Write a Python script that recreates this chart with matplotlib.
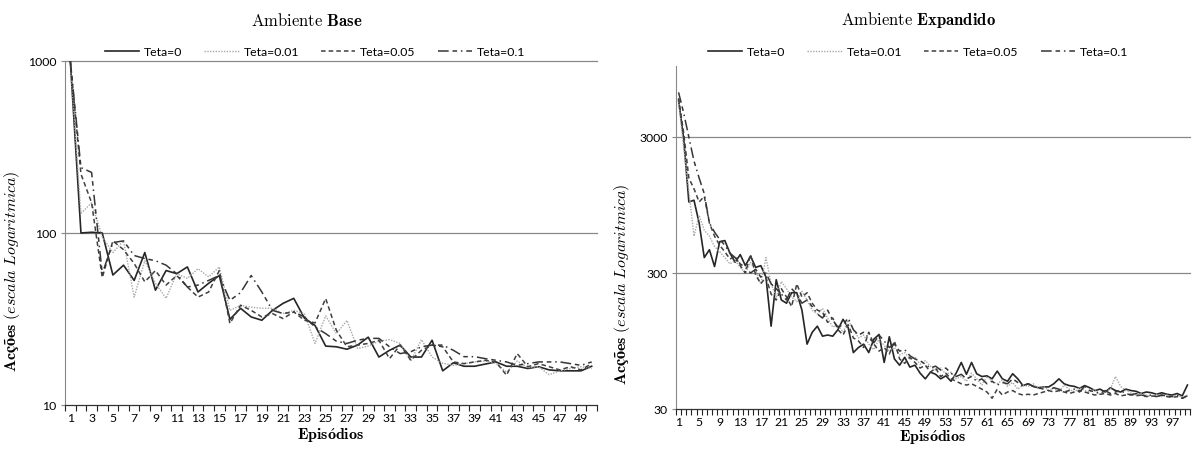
import matplotlib
matplotlib.use("Agg")
import matplotlib.pyplot as plt
import numpy as np

plt.rcParams['mathtext.fontset'] = 'cm'
plt.rcParams['font.family'] = ['Lato', 'DejaVu Sans']

labels = ["Teta=0", "Teta=0.01", "Teta=0.05", "Teta=0.1"]

# ---- Ambiente Base (50 episodes) ----
base_t0 = [1000, 100, 101, 100, 57, 65, 53, 77, 46.5, 60.5, 58, 63.5, 45.4, 51, 56.6,
           31.5, 36.5, 32.5, 31.1, 35.5, 39, 41.7, 32, 29, 22, 21.8, 21.1, 22.3, 24.8, 19.0,
           20.8, 22.3, 19.0, 19.0, 23.8, 15.8, 17.6, 16.8, 16.8, 17.3, 17.8, 16.8, 16.8, 16.3,
           16.7, 16.0, 15.8, 15.8, 15.8, 16.8]
base_t01 = [1000, 130, 150, 95, 77, 90, 42.4, 69, 51, 41.7, 58, 54.5, 62, 55.5, 63.5,
            35.5, 38, 37, 36.5, 36.5, 34, 35.5, 34, 22.8, 33, 26, 31, 21.3, 22, 23.5,
            24, 22.8, 18, 24, 19, 17.5, 17, 17.4, 17.8, 18, 17.5, 15.5, 18, 16.5,
            16.7, 15, 15.8, 16.3, 16.7, 16.3]
base_t05 = [1000, 220, 150, 55, 90, 80, 66.5, 52, 60.5, 49.8, 56.6, 48.5, 42.4, 45.4, 60.5,
            29.8, 38, 35.5, 32.5, 34, 31.8, 34.8, 31.1, 30, 41.6, 27.2, 21.8, 22.3, 22.8, 23.8,
            18.6, 22.3, 18.2, 20.8, 22.3, 21.8, 17.8, 17.4, 17.8, 18.2, 17.8, 14.9, 19.9, 16.7,
            17.4, 16.7, 16, 16.7, 16, 17.4]
base_t1 = [1000, 240, 225, 58, 88, 90, 74, 71, 69, 65, 58, 48.5, 49.8, 53, 56.6,
           40.6, 45, 56.6, 45.4, 35.5, 34, 34.8, 32.5, 28.4, 26, 23.5, 22.8, 23.8, 24.4, 24.4,
           21.8, 19.9, 20.4, 21.8, 22.3, 22.3, 20.8, 19.1, 19.1, 18.6, 18.2, 17.8, 17.0, 17.4,
           17.8, 17.8, 17.8, 17.4, 17, 17.8]

# ---- Ambiente Expandido (100 episodes) ----
exp_t0 = [5600, 2900, 1000, 1030, 700, 390, 445, 335, 510, 520,
          420, 360, 410, 340, 400, 330, 340, 280, 122, 268,
          190, 180, 215, 215, 160, 90, 110, 122, 103, 105,
          103, 115, 137, 119, 78, 85, 90, 78, 98, 106,
          66, 102, 70, 63, 72, 61, 63, 55, 50, 56,
          54, 50, 52.6, 48, 55, 66, 54, 66, 54.5, 52,
          52.6, 50, 57, 50, 48, 54.5, 50, 44.6, 46, 44,
          43, 43.6, 43.6, 46, 50, 46, 44.6, 44, 42.5, 44.6,
          43, 41, 42, 40, 43, 41, 40, 42, 41, 40.5,
          39, 40, 39.5, 38.5, 39.5, 38.5, 38, 39, 37.5, 45]
exp_t01 = [5500, 2500, 1200, 560, 800, 620, 560, 470, 430, 390,
           350, 370, 330, 300, 360, 310, 250, 390, 250, 200,
           260, 230, 200, 185, 220, 190, 160, 150, 165, 140,
           120, 125, 110, 135, 115, 100, 105, 90, 82, 98,
           88, 80, 85, 75, 78, 70, 72, 64, 68, 62,
           58, 60, 54, 56, 50, 52, 48, 55, 50, 45,
           52, 48, 46, 49, 44, 47, 42, 45, 44, 46,
           42, 44, 41, 43, 40, 45, 42, 40, 43, 41,
           40, 42, 38, 40, 42, 52, 44, 41, 40, 38,
           39, 38, 37, 38.5, 37, 38, 37, 38, 36.5, 38]
exp_t05 = [5800, 3200, 1500, 1250, 1000, 1100, 700, 560, 480, 430,
           380, 400, 340, 300, 410, 290, 250, 280, 210, 190,
           230, 200, 170, 250, 200, 215, 180, 160, 155, 130,
           140, 115, 105, 125, 100, 95, 85, 110, 90, 80,
           85, 76, 95, 70, 65, 72, 66, 60, 63, 56,
           60, 52, 55, 50, 48, 46, 45, 46, 44, 42,
           40, 36, 42, 38, 40, 41, 39, 38, 38.5, 38,
           39, 40, 41, 40, 41, 40, 39, 40, 41, 40,
           39, 38, 38.5, 39, 38, 39, 37.5, 38, 38.5, 37.5,
           38, 37, 37.5, 37, 38, 37, 36.5, 37, 36, 37.5]
exp_t1 = [6400, 4500, 3000, 2000, 1500, 1150, 700, 600, 530, 480,
          420, 390, 350, 330, 300, 320, 280, 300, 250, 230,
          210, 190, 230, 210, 180, 190, 170, 150, 140, 160,
          135, 120, 125, 140, 115, 105, 110, 100, 92, 105,
          95, 85, 90, 80, 82, 74, 70, 68, 64, 60,
          62, 58, 60, 55, 52, 54, 50, 52, 48, 50,
          46, 48, 45, 47, 46, 50, 47, 44, 46, 44,
          43, 42, 41, 43, 42, 40, 41, 42, 40, 44,
          41, 40, 39, 41, 39, 40, 41, 39, 38, 39,
          38, 37.5, 38, 37, 38, 37.5, 37, 38, 36, 37.5]

styles = [
    dict(color='#262626', lw=1.2, ls='-'),
    dict(color='#a8a8a8', lw=1.0, ls=(0, (1, 1))),
    dict(color='#404040', lw=1.1, ls=(0, (3, 2))),
    dict(color='#363636', lw=1.1, ls=(0, (7, 2.5, 3, 2.5, 1, 2.5))),
]

fig = plt.figure(figsize=(11.92, 4.5), dpi=100)
W, H = 1192, 450

def make_ax(x0, x1, ytop, ybot):
    return fig.add_axes([x0 / W, 1 - ybot / H, (x1 - x0) / W, (ybot - ytop) / H])

ax1 = make_ax(65, 597, 61, 405)
ax2 = make_ax(676, 1190, 66, 409)

def style_ax(ax, n, ylim, yticks, label_step):
    ax.set_yscale('log')
    ax.set_ylim(*ylim)
    ax.set_xlim(0.5, n + 0.5)
    ax.set_yticks(yticks)
    ax.set_yticklabels([str(v) for v in yticks])
    ax.yaxis.set_minor_locator(matplotlib.ticker.NullLocator())
    ax.tick_params(axis='y', which='major', length=3, color='#888888', labelsize=8.8, pad=3)
    major = list(range(1, n + 1, label_step))
    ax.set_xticks(major)
    ax.set_xticklabels([str(v) for v in major])
    ax.set_xticks(np.arange(0.5, n + 1, 1.0), minor=True)
    ax.tick_params(axis='x', which='major', length=0, labelsize=8.8, pad=6)
    ax.tick_params(axis='x', which='minor', length=4, width=0.8, color='#222222', direction='out')
    for s in ['top', 'right']:
        ax.spines[s].set_visible(False)
    ax.spines['left'].set_color('#888888')
    ax.spines['left'].set_linewidth(0.8)
    ax.spines['bottom'].set_color('#333333')
    ax.spines['bottom'].set_linewidth(0.9)
    for v in yticks[1:]:
        ax.axhline(v, color='#888888', lw=0.9, zorder=0, clip_on=False)

ep_base = np.arange(1, len(base_t0) + 1)
ep_exp = np.arange(1, len(exp_t0) + 1)

for data, st, lab in zip([base_t0, base_t01, base_t05, base_t1], styles, labels):
    ax1.plot(ep_base, data, label=lab, **st)
for data, st, lab in zip([exp_t0, exp_t01, exp_t05, exp_t1], styles, labels):
    ax2.plot(ep_exp, data, label=lab, **st)

style_ax(ax1, 50, (10, 1000), [10, 100, 1000], 2)
style_ax(ax2, 100, (30, 10000), [30, 300, 3000], 4)

ylab = r"$\mathbf{Acções}\ (escala\ Logaritmica)$"
xlab = r"$\mathbf{Epis\acute{o}dios}$"
for ax, yc, lp in [(ax1, (-0.080, 0.39), 1.5), (ax2, (-0.085, 0.365), 0)]:
    ax.set_ylabel(ylab, fontsize=11.5)
    ax.yaxis.set_label_coords(*yc)
    ax.set_xlabel(xlab, fontsize=11.5, labelpad=lp)

fig.text(307 / W, 1 - 20 / H, r"$\mathrm{Ambiente}\ \mathbf{Base}$", ha='center', va='center', fontsize=12)
fig.text(918 / W, 1 - 20 / H, r"$\mathrm{Ambiente}\ \mathbf{Expandido}$", ha='center', va='center', fontsize=12)

for ax, cx in [(ax1, 315), (ax2, 918)]:
    h, l = ax.get_legend_handles_labels()
    fig.legend(h, l, loc='center', bbox_to_anchor=(cx / W, 1 - 52 / H), ncol=4, frameon=False,
               fontsize=8.8, handlelength=2.8, handletextpad=0.4, columnspacing=1.8)

fig.savefig("out.png", dpi=100, facecolor='white')
